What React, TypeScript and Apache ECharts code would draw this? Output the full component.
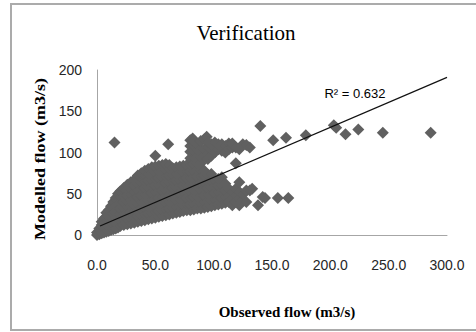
import React, { useEffect, useRef } from "react";
import * as echarts from "echarts";

const chartTitle = "Verification";
const xAxisName = "Observed flow (m3/s)";
const yAxisName = "Modelled flow (m3/s)";
const r2Label = "R\u00b2 = 0.632";

const xTicks = [0, 50, 100, 150, 200, 250, 300];
const yTicks = [0, 50, 100, 150, 200];

// trendline end points [observed, modelled]
const trendObserved = [2.6, 300];
const trendModelled = [10.9, 191];

// [observed, modelled] pairs
const flowPairs: [number, number][] = [
  [0, 0], [0, 3],
  [2, 1], [2, 5], [2, 8],
  [4, 2], [4, 7], [4, 12], [4, 16],
  [6, 3], [6, 8], [6, 14], [6, 20],
  [8, 4], [8, 10], [8, 16], [8, 22], [8, 27],
  [10, 5], [10, 11], [10, 17], [10, 23], [10, 30],
  [12, 6], [12, 12], [12, 18], [12, 24], [12, 30], [12, 35],
  [14, 7], [14, 13], [14, 19], [14, 26], [14, 33], [14, 40],
  [16, 8], [16, 14], [16, 21], [16, 28], [16, 35], [16, 41], [16, 45],
  [18, 9], [18, 16], [18, 23], [18, 30], [18, 37], [18, 44], [18, 50],
  [20, 11], [20, 18], [20, 25], [20, 32], [20, 39], [20, 46], [20, 53],
  [23, 12], [23, 19], [23, 26], [23, 33], [23, 40], [23, 47], [23, 53], [23, 57],
  [26, 13], [26, 20], [26, 27], [26, 34], [26, 41], [26, 48], [26, 55], [26, 61],
  [29, 14], [29, 21], [29, 28], [29, 35], [29, 42], [29, 49], [29, 56], [29, 64],
  [32, 15], [32, 22], [32, 29], [32, 36], [32, 44], [32, 52], [32, 60], [32, 67],
  [35, 16], [35, 23], [35, 30], [35, 38], [35, 46], [35, 54], [35, 62], [35, 72],
  [38, 17], [38, 24], [38, 32], [38, 40], [38, 48], [38, 56], [38, 64], [38, 70], [38, 75],
  [41, 18], [41, 25], [41, 33], [41, 41], [41, 49], [41, 57], [41, 65], [41, 72], [41, 78],
  [44, 19], [44, 26], [44, 34], [44, 42], [44, 50], [44, 58], [44, 66], [44, 74], [44, 80],
  [47, 20], [47, 27], [47, 35], [47, 43], [47, 51], [47, 59], [47, 67], [47, 75], [47, 82],
  [50, 21], [50, 28], [50, 36], [50, 44], [50, 52], [50, 60], [50, 68], [50, 76], [50, 83], [50, 96],
  [53, 22], [53, 29], [53, 37], [53, 45], [53, 53], [53, 61], [53, 69], [53, 77], [53, 84],
  [56, 23], [56, 30], [56, 38], [56, 46], [56, 54], [56, 62], [56, 70], [56, 78], [56, 85],
  [59, 24], [59, 31], [59, 39], [59, 47], [59, 55], [59, 63], [59, 71], [59, 79], [59, 86],
  [61, 110],
  [62, 25], [62, 32], [62, 40], [62, 48], [62, 56], [62, 64], [62, 72], [62, 80], [62, 85],
  [65, 26], [65, 33], [65, 41], [65, 49], [65, 57], [65, 65], [65, 73], [65, 81],
  [68, 27], [68, 34], [68, 42], [68, 50], [68, 58], [68, 66], [68, 74], [68, 82],
  [71, 28], [71, 35], [71, 43], [71, 51], [71, 59], [71, 67], [71, 75], [71, 83],
  [74, 29], [74, 36], [74, 44], [74, 52], [74, 60], [74, 68], [74, 76], [74, 84],
  [77, 30], [77, 37], [77, 45], [77, 53], [77, 61], [77, 69], [77, 77], [77, 85],
  [80, 30], [80, 37], [80, 45], [80, 53], [80, 61], [80, 69], [80, 77], [80, 85], [80, 93], [80, 101], [80, 108], [80, 115],
  [82, 117],
  [83, 31], [83, 38], [83, 46], [83, 54], [83, 62], [83, 70], [83, 78], [83, 86], [83, 94], [83, 102], [83, 109], [83, 114],
  [86, 32], [86, 39], [86, 47], [86, 55], [86, 63], [86, 71], [86, 79], [86, 87], [86, 95], [86, 103], [86, 110],
  [89, 32], [89, 39], [89, 47], [89, 55], [89, 63], [89, 71], [89, 79], [89, 87], [89, 95], [89, 104], [89, 114],
  [92, 33], [92, 40], [92, 48], [92, 56], [92, 64], [92, 72], [92, 78], [92, 96], [92, 104], [92, 116],
  [94, 119],
  [95, 34], [95, 41], [95, 49], [95, 57], [95, 65], [95, 73], [95, 92], [95, 98], [95, 106], [95, 112],
  [98, 35], [98, 42], [98, 50], [98, 58], [98, 66], [98, 74], [98, 96], [98, 104], [98, 110],
  [101, 36], [101, 43], [101, 51], [101, 59], [101, 67], [101, 100], [101, 112],
  [104, 37], [104, 44], [104, 52], [104, 60], [104, 68], [104, 104], [104, 110],
  [107, 38], [107, 45], [107, 53], [107, 61], [107, 70], [107, 102], [107, 110],
  [110, 39], [110, 46], [110, 54], [110, 62], [110, 100], [110, 108],
  [113, 40], [113, 47], [113, 56], [113, 104], [113, 111],
  [116, 36], [116, 44], [116, 52], [116, 106], [116, 111],
  [119, 40], [119, 48], [119, 56], [119, 87], [119, 106],
  [122, 36], [122, 44], [122, 52], [122, 64], [122, 104],
  [125, 42], [125, 49], [125, 110],
  [128, 40], [128, 54], [128, 109],
  [131, 54], [131, 106],
  [133, 56],
  [138, 36],
  [140, 132],
  [142, 46],
  [144, 45],
  [151, 115],
  [155, 45],
  [162, 118],
  [164, 45],
  [179, 121],
  [203, 133],
  [205, 130],
  [213, 122],
  [224, 128],
  [245, 124],
  [286, 124],
  [15, 112],
];

export default function App() {
  const ref = useRef<HTMLDivElement>(null);

  useEffect(() => {
    if (!ref.current) return;
    const chart = echarts.init(ref.current, null, { renderer: "svg" });
    const trendData = trendObserved.map((x, i) => [x, trendModelled[i]]);
    const tickFont = { fontFamily: "Liberation Sans", fontSize: 14, color: "#262626" };
    chart.setOption({
      animation: false,
      backgroundColor: "#ffffff",
      grid: {
        left: 97,
        right: 29,
        top: 70,
        bottom: 97,
        containLabel: false,
        outerBoundsMode: "none",
      },
      xAxis: {
        type: "value",
        min: xTicks[0],
        max: xTicks[xTicks.length - 1],
        interval: xTicks[1] - xTicks[0],
        axisLine: { show: true, lineStyle: { color: "#a6a6a6", width: 1 } },
        axisTick: { show: false },
        splitLine: { show: false },
        axisLabel: {
          ...tickFont,
          margin: 23,
          formatter: (v: number) => v.toFixed(1),
        },
      },
      yAxis: {
        type: "value",
        min: yTicks[0],
        max: yTicks[yTicks.length - 1],
        interval: yTicks[1] - yTicks[0],
        axisLine: { show: true, lineStyle: { color: "#a6a6a6", width: 1 } },
        axisTick: { show: false },
        splitLine: { show: false },
        axisLabel: { ...tickFont, margin: 15 },
      },
      series: [
        {
          type: "scatter",
          data: flowPairs,
          symbol: "diamond",
          symbolSize: 12,
          itemStyle: { color: "#606060", opacity: 1 },
          z: 2,
        },
        {
          type: "line",
          data: trendData,
          symbol: "none",
          lineStyle: { color: "#111111", width: 1.2 },
          z: 3,
        },
      ],
      graphic: [
        {
          type: "rect",
          shape: { x: 11, y: 4, width: 480, height: 326 },
          style: { fill: "none", stroke: "#ababab", lineWidth: 2 },
          z: -1,
        },
        {
          type: "text",
          x: 246,
          y: 33,
          style: {
            text: chartTitle,
            font: "21px 'Liberation Serif'",
            fill: "#000",
            align: "center",
            verticalAlign: "middle",
          },
        },
        {
          type: "text",
          x: 287,
          y: 312,
          style: {
            text: xAxisName,
            font: "bold 15px 'Liberation Serif'",
            fill: "#000",
            align: "center",
            verticalAlign: "middle",
          },
        },
        {
          type: "text",
          x: 40,
          y: 159,
          rotation: Math.PI / 2,
          scaleX: 1.2,
          style: {
            text: yAxisName,
            font: "bold 15px 'Liberation Serif'",
            fill: "#000",
            align: "center",
            verticalAlign: "middle",
          },
        },
        {
          type: "text",
          x: 355,
          y: 93,
          style: {
            text: r2Label,
            font: "13px 'Liberation Sans'",
            fill: "#000",
            align: "center",
            verticalAlign: "middle",
          },
        },
      ],
    });
    return () => chart.dispose();
  }, []);

  return (
    <div
      ref={ref}
      style={{ position: "fixed", left: 0, top: 0, width: 476, height: 332, background: "#fff" }}
    />
  );
}
